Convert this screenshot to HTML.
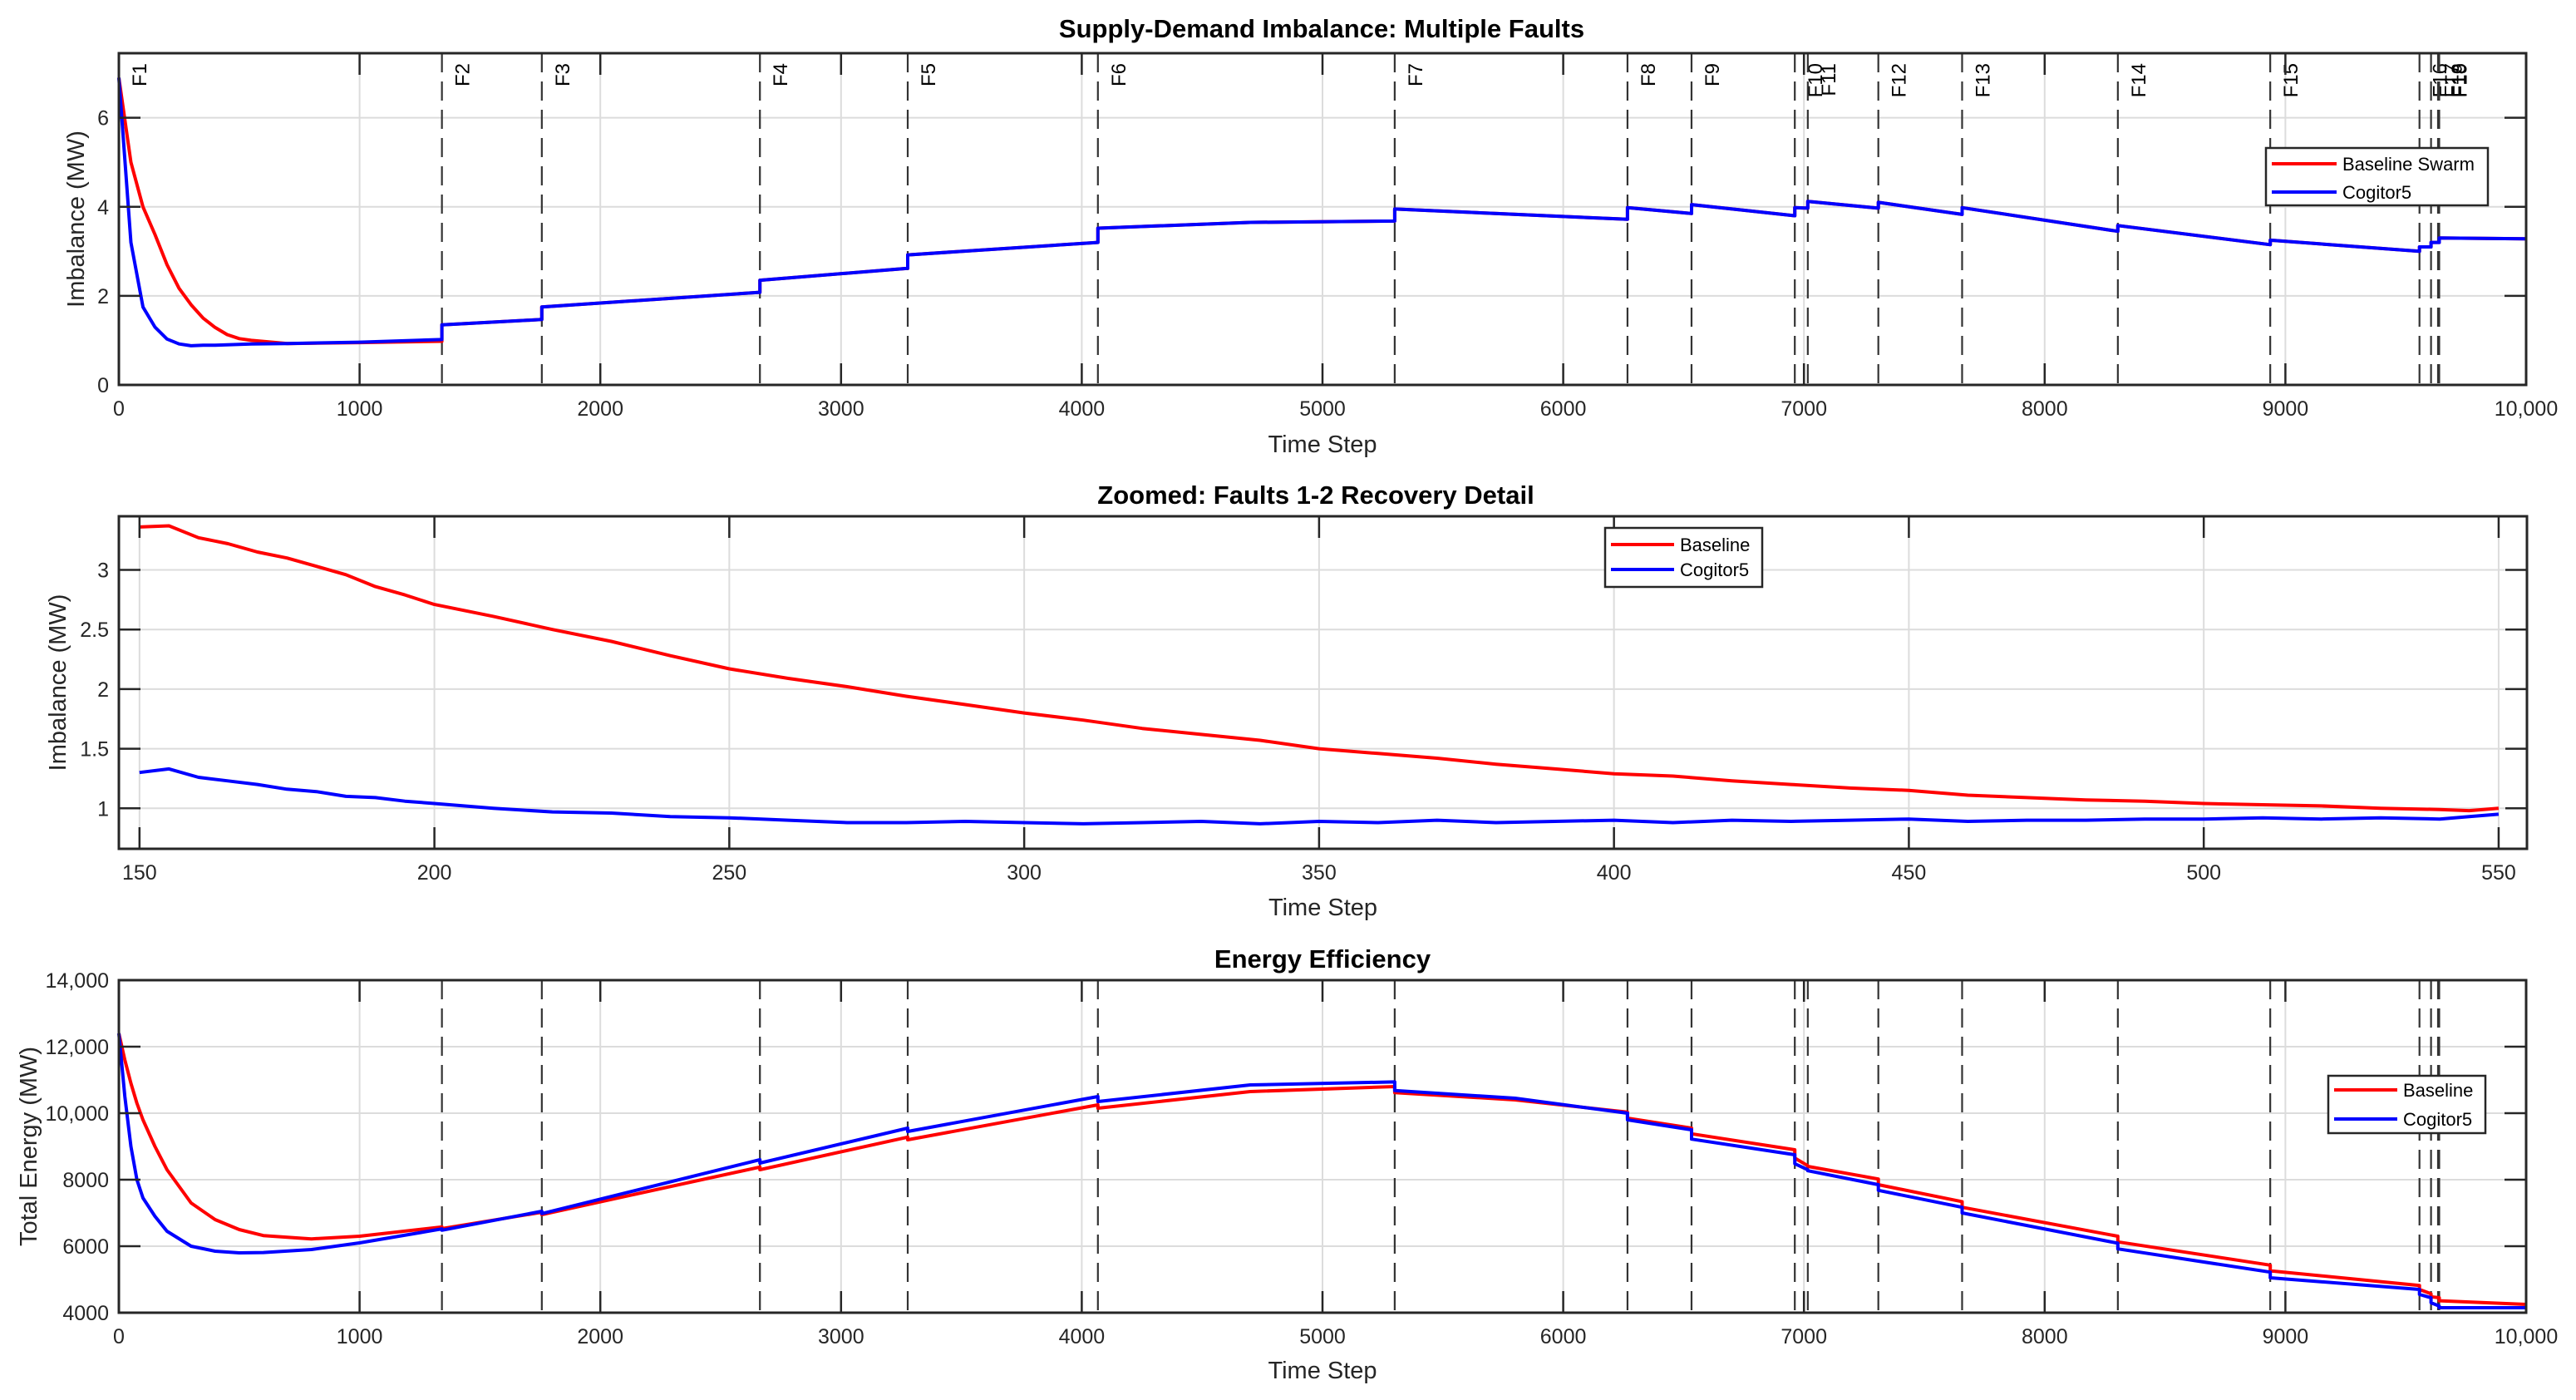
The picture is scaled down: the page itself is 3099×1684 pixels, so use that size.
<!DOCTYPE html>
<html><head><meta charset="utf-8">
<style>
html,body{margin:0;padding:0;background:#fff;}
svg{display:block;font-family:"Liberation Sans",sans-serif;}
</style></head>
<body>
<svg id="fig" width="3099" height="1684" viewBox="0 0 3099 1684" xmlns="http://www.w3.org/2000/svg">
<rect width="3099" height="1684" fill="#fff"/>
</svg>
<script>
// ---------- data ----------
const faultTimes = [0,1342,1757,2663,3277,4067,5300,6267,6533,6962,7016,7309,7657,8304,8937,9557,9605,9634,9639];
const faultLabels = ["F1","F2","F3","F4","F5","F6","F7","F8","F9","F10","F11","F12","F13","F14","F15","F16","F17","F18","F19"];

const impT = [0,50,100,150,200,250,300,350,400,450,500,550,700,1000,1342,1342,1757,1757,2663,2663,3277,3277,4067,4067,4700,5300,5300,6267,6267,6533,6533,6962,6962,7016,7016,7309,7309,7657,7657,8304,8304,8937,8937,9557,9557,9605,9605,9639,9639,10000];
const impBase = [6.9,5.0,4.0,3.38,2.7,2.17,1.8,1.5,1.29,1.13,1.04,1.0,0.93,0.95,0.98,1.35,1.47,1.75,2.08,2.35,2.62,2.92,3.2,3.52,3.65,3.68,3.95,3.72,3.98,3.85,4.05,3.8,3.98,3.97,4.12,3.97,4.1,3.83,3.98,3.45,3.58,3.15,3.25,3.0,3.1,3.1,3.2,3.2,3.3,3.28];
const impCog = [6.9,3.2,1.75,1.3,1.03,0.92,0.88,0.89,0.89,0.9,0.91,0.92,0.93,0.96,1.02,1.35,1.47,1.75,2.08,2.35,2.62,2.92,3.2,3.52,3.65,3.68,3.95,3.72,3.98,3.85,4.05,3.8,3.98,3.97,4.12,3.97,4.1,3.83,3.98,3.45,3.58,3.15,3.25,3.0,3.1,3.1,3.2,3.2,3.3,3.28];
const impXTicks = [0,1000,2000,3000,4000,5000,6000,7000,8000,9000,10000];
const impXTickLabels = ["0","1000","2000","3000","4000","5000","6000","7000","8000","9000","10,000"];
const impYTicks = [0,2,4,6];

const zoomT = [150,155,160,165,170,175,180,185,190,195,200,210,220,230,240,250,260,270,280,290,300,310,320,330,340,350,360,370,380,390,400,410,420,430,440,450,460,470,480,490,500,510,520,530,540,545,550];
const zoomBase = [3.36,3.37,3.27,3.22,3.15,3.1,3.03,2.96,2.86,2.79,2.71,2.61,2.5,2.4,2.28,2.17,2.09,2.02,1.94,1.87,1.8,1.74,1.67,1.62,1.57,1.5,1.46,1.42,1.37,1.33,1.29,1.27,1.23,1.2,1.17,1.15,1.11,1.09,1.07,1.06,1.04,1.03,1.02,1.0,0.99,0.98,1.0];
const zoomCog = [1.3,1.33,1.26,1.23,1.2,1.16,1.14,1.1,1.09,1.06,1.04,1.0,0.97,0.96,0.93,0.92,0.9,0.88,0.88,0.89,0.88,0.87,0.88,0.89,0.87,0.89,0.88,0.9,0.88,0.89,0.9,0.88,0.9,0.89,0.9,0.91,0.89,0.9,0.9,0.91,0.91,0.92,0.91,0.92,0.91,0.93,0.95];
const zoomXTicks = [150,200,250,300,350,400,450,500,550];
const zoomYTicks = [1,1.5,2,2.5,3];
const zoomYTickLabels = ["1","1.5","2","2.5","3"];

const enT = [0,25,50,75,100,150,200,300,400,500,600,800,1000,1342,1342,1757,1757,2663,2663,3277,3277,4067,4067,4700,5300,5300,5800,6267,6267,6533,6533,6962,6962,7016,7016,7309,7309,7657,7657,8304,8304,8937,8937,9557,9557,9605,9605,9639,9639,10000];
const enBase = [12400,11600,10900,10300,9800,9000,8300,7300,6800,6500,6320,6220,6300,6580,6530,7020,6950,8380,8300,9280,9200,10250,10150,10650,10800,10620,10400,10030,9850,9550,9380,8900,8650,8420,8400,8020,7850,7340,7170,6300,6130,5430,5260,4820,4700,4570,4480,4450,4360,4250];
const enCog = [12400,10500,9000,8000,7450,6900,6450,6000,5850,5800,5810,5900,6100,6520,6480,7050,6980,8600,8500,9550,9450,10500,10350,10850,10940,10680,10450,10000,9800,9500,9220,8750,8480,8300,8270,7850,7680,7170,7000,6090,5920,5220,5050,4700,4550,4450,4300,4200,4150,4150];
const enYTicks = [4000,6000,8000,10000,12000,14000];
const enYTickLabels = ["4000","6000","8000","10,000","12,000","14,000"];

// ---------- helpers ----------
const NS = "http://www.w3.org/2000/svg";
const svg = document.getElementById("fig");
function mk(tag, attrs, parent){
  const e = document.createElementNS(NS, tag);
  for (const k in attrs) e.setAttribute(k, attrs[k]);
  (parent || svg).appendChild(e);
  return e;
}
function scale(d0,d1,r0,r1){ return v => r0 + (v-d0)/(d1-d0)*(r1-r0); }

function drawAxes(p){
  const g = mk("g", {});
  
  
  const X = scale(p.xmin,p.xmax,p.L,p.R), Y = scale(p.ymin,p.ymax,p.B,p.T);
  p.xticks.forEach(v=>{
    const l = mk("line",{x1:X(v),x2:X(v),y1:p.T,y2:p.B,stroke:"#dcdcdc","stroke-width":2},g);
    
    
  });
  p.yticks.forEach(v=>{
    const l = mk("line",{x1:p.L,x2:p.R,y1:Y(v),y2:Y(v),stroke:"#dcdcdc","stroke-width":2},g);
    
    
  });
  return {g,X,Y};
}
function drawFrame(p, g, X, Y){
  mk("rect",{x:p.L,y:p.T,width:p.R-p.L,height:p.B-p.T,fill:"none",stroke:"#262626","stroke-width":3},g);
  p.xticks.forEach((v,i)=>{
    mk("line",{x1:X(v),x2:X(v),y1:p.B,y2:p.B-26,stroke:"#262626","stroke-width":2.5},g);
    mk("line",{x1:X(v),x2:X(v),y1:p.T,y2:p.T+26,stroke:"#262626","stroke-width":2.5},g);
    const t = mk("text",{x:X(v),y:p.B+37,"text-anchor":"middle","font-size":25,fill:"#262626"},g);
    
    
    t.textContent = p.xlabels ? p.xlabels[i] : String(v);
  });
  p.yticks.forEach((v,i)=>{
    mk("line",{x1:p.L,x2:p.L+26,y1:Y(v),y2:Y(v),stroke:"#262626","stroke-width":2.5},g);
    mk("line",{x1:p.R,x2:p.R-26,y1:Y(v),y2:Y(v),stroke:"#262626","stroke-width":2.5},g);
    const t = mk("text",{x:p.L-12,y:Y(v)+9,"text-anchor":"end","font-size":25,fill:"#262626"},g);
    
    
    t.textContent = p.ylabels ? p.ylabels[i] : String(v);
  });
  const tt = mk("text",{x:p.tx,y:p.ty,"text-anchor":"middle","font-size":31,"font-weight":"bold",fill:"#000"},g);
  
  
  tt.textContent = p.title;
  const xl = mk("text",{x:(p.L+p.R)/2,y:p.xly,"text-anchor":"middle","font-size":29,fill:"#262626"},g);
  
  
  xl.textContent = "Time Step";
  const yl = mk("text",{x:0,y:0,"text-anchor":"middle","font-size":29,fill:"#262626",transform:`translate(${p.ylx},${(p.T+p.B)/2}) rotate(-90)`},g);
  
  
  yl.textContent = p.ylabel;
}
function drawSeries(g, X, Y, ts, vs, color, name){
  const pts = ts.map((t,i)=>X(t).toFixed(1)+","+Y(vs[i]).toFixed(1)).join(" ");
  const pl = mk("polyline",{points:pts,fill:"none",stroke:color,"stroke-width":4,"stroke-linejoin":"round"},g);
  
  
}
function drawFaults(p, g, X, withLabels){
  faultTimes.forEach((f,i)=>{
    if (f > p.xmin){
      const l = mk("line",{x1:X(f),x2:X(f),y1:p.T,y2:p.B,stroke:"#333","stroke-width":2.2,"stroke-dasharray":"23 11"},g);
      
      
    }
    if (withLabels){
      const x = X(f)+33, y = p.T+12;
      const t = mk("text",{x:0,y:0,"font-size":24,fill:"#000","text-anchor":"end",transform:`translate(${x},${y}) rotate(-90)`},g);
      
      
      t.textContent = faultLabels[i];
    }
  });
}
function drawLegend(g, box, rows){
  const lg = mk("g",{},g);
  
  
  mk("rect",{x:box.x,y:box.y,width:box.w,height:box.h,fill:"#fff",stroke:"#262626","stroke-width":2.5},lg);
  rows.forEach((r,i)=>{
    const y = box.y + box.r0 + i*box.dy;
    const e = mk("g",{},lg);
    
    
    mk("line",{x1:box.x+7,x2:box.x+7+box.lw,y1:y,y2:y,stroke:r.c,"stroke-width":4},e);
    const t = mk("text",{x:box.x+box.lw+14,y:y+8,"font-size":22,fill:"#000"},e);
    t.textContent = r.n;
  });
}

// ---------- panel 1 ----------
const p1 = {name:"imbalance-chart",L:143,R:3039,T:64,B:463,xmin:0,xmax:10000,ymin:0,ymax:7.45,
  xticks:impXTicks,xlabels:impXTickLabels,yticks:impYTicks,title:"Supply-Demand Imbalance: Multiple Faults",
  tx:1590,ty:45,xly:544,ylx:101,ylabel:"Imbalance (MW)"};
{
  const {g,X,Y} = drawAxes(p1);
  drawFaults(p1,g,X,true);
  drawSeries(g,X,Y,impT,impBase,"#ff0000","baseline-swarm-line");
  drawSeries(g,X,Y,impT,impCog,"#0000ff","cogitor5-line");
  drawFrame(p1,g,X,Y);
  drawLegend(g,{x:2726,y:178,w:267,h:69,r0:19,dy:34,lw:78},[{n:"Baseline Swarm",c:"#ff0000"},{n:"Cogitor5",c:"#0000ff"}]);
}
// ---------- panel 2 ----------
const p2 = {name:"zoomed-recovery-chart",L:143,R:3040,T:621,B:1021,xmin:146.5,xmax:554.8,ymin:0.66,ymax:3.45,
  xticks:zoomXTicks,yticks:zoomYTicks,ylabels:zoomYTickLabels,title:"Zoomed: Faults 1-2 Recovery Detail",
  tx:1583,ty:606,xly:1101,ylx:79,ylabel:"Imbalance (MW)"};
{
  const {g,X,Y} = drawAxes(p2);
  drawSeries(g,X,Y,zoomT,zoomBase,"#ff0000","baseline-zoom-line");
  drawSeries(g,X,Y,zoomT,zoomCog,"#0000ff","cogitor5-zoom-line");
  drawFrame(p2,g,X,Y);
  drawLegend(g,{x:1931,y:635,w:189,h:71,r0:20,dy:30,lw:76},[{n:"Baseline",c:"#ff0000"},{n:"Cogitor5",c:"#0000ff"}]);
}
// ---------- panel 3 ----------
const p3 = {name:"energy-efficiency-chart",L:143,R:3039,T:1179,B:1579,xmin:0,xmax:10000,ymin:4000,ymax:14000,
  xticks:impXTicks,xlabels:impXTickLabels,yticks:enYTicks,ylabels:enYTickLabels,title:"Energy Efficiency",
  tx:1591,ty:1164,xly:1658,ylx:44,ylabel:"Total Energy (MW)"};
{
  const {g,X,Y} = drawAxes(p3);
  drawFaults(p3,g,X,false);
  drawSeries(g,X,Y,enT,enBase,"#ff0000","baseline-energy-line");
  drawSeries(g,X,Y,enT,enCog,"#0000ff","cogitor5-energy-line");
  drawFrame(p3,g,X,Y);
  drawLegend(g,{x:2801,y:1294,w:189,h:69,r0:17,dy:35,lw:76},[{n:"Baseline",c:"#ff0000"},{n:"Cogitor5",c:"#0000ff"}]);
}
</script>
</body></html>
